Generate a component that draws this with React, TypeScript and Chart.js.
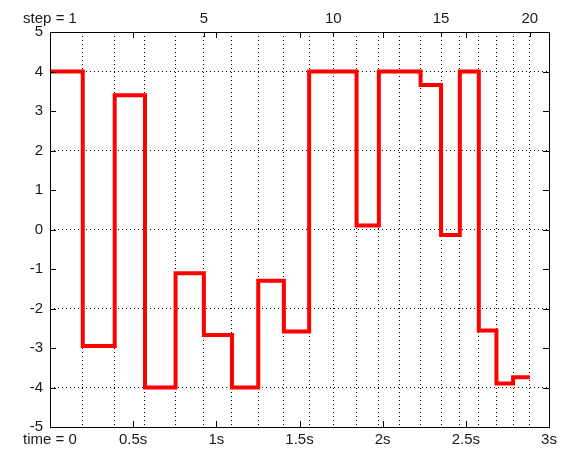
import React, { useEffect, useRef } from 'react';
import { Chart, registerables } from 'chart.js';

Chart.register(...registerables);

// step boundary times (s); boundary i is where step i+1 begins, last one is the end
const stepTimes = [0, 0.197, 0.389, 0.571, 0.755, 0.925, 1.094, 1.252, 1.406, 1.558, 1.703, 1.843, 1.977, 2.103, 2.228, 2.351, 2.464, 2.578, 2.684, 2.784, 2.885];
// value held during each step
const stepValues = [4, -2.95, 3.4, -4.0, -1.11, -2.67, -4.0, -1.3, -2.58, 4, 4, 0.1, 4, 4, 3.66, -0.14, 4, -2.56, -3.9, -3.74];

const timeTicks = [0, 0.5, 1, 1.5, 2, 2.5, 3];
const timeLabels = ['time = 0', '0.5s', '1s', '1.5s', '2s', '2.5s', '3s'];
const stepLabelIndex = [0, 5, 10, 15, 20];
const stepLabels = ['step = 1', '5', '10', '15', '20'];
const yMin = -5;
const yMax = 5;

const FONT = { family: '"Liberation Sans", Arial, Helvetica, sans-serif', size: 15 };
const TEXT = '#1a1a1a';
const AXIS = '#000000';

const framePlugin = {
  id: 'frameTicks',
  afterDraw(chart: any) {
    const { ctx, chartArea: a, scales } = chart;
    const x = scales.x;
    const y = scales.y;
    ctx.save();
    ctx.strokeStyle = AXIS;
    ctx.lineWidth = 1;
    ctx.setLineDash([]);
    ctx.beginPath();
    for (let v = yMin + 1; v < yMax; v++) {
      const py = Math.round(y.getPixelForValue(v)) + 0.5;
      ctx.moveTo(a.left, py);
      ctx.lineTo(a.left + 6, py);
      ctx.moveTo(a.right, py);
      ctx.lineTo(a.right - 6, py);
    }
    timeTicks.forEach((t) => {
      if (t <= 0 || t >= 3) return;
      const px = Math.round(x.getPixelForValue(t)) + 0.5;
      ctx.moveTo(px, a.bottom);
      ctx.lineTo(px, a.bottom - 6);
      ctx.moveTo(px, a.top);
      ctx.lineTo(px, a.top + 6);
    });
    stepLabelIndex.forEach((i) => {
      if (i === 0) return;
      const px = Math.round(x.getPixelForValue(stepTimes[i])) + 0.5;
      ctx.moveTo(px, a.top);
      ctx.lineTo(px, a.top + 5);
    });
    ctx.stroke();
    ctx.strokeRect(Math.round(a.left) + 0.5, Math.round(a.top) + 0.5, Math.round(a.right - a.left), Math.round(a.bottom - a.top));
    ctx.restore();
  },
};

export default function App() {
  const ref = useRef<HTMLCanvasElement | null>(null);

  useEffect(() => {
    document.body.style.margin = '0';
    const canvas = ref.current;
    if (!canvas) return;
    const points = stepValues.map((v, i) => ({ x: stepTimes[i], y: v }));
    points.push({ x: stepTimes[stepTimes.length - 1], y: stepValues[stepValues.length - 1] });

    const chart = new Chart(canvas, {
      type: 'line',
      data: {
        datasets: [
          {
            data: points,
            borderColor: '#ff0000',
            borderWidth: 4,
            pointRadius: 0,
            stepped: 'before',
            fill: false,
            borderJoinStyle: 'miter',
            xAxisID: 'x',
            yAxisID: 'y',
          },
        ],
      },
      options: {
        animation: false,
        responsive: false,
        devicePixelRatio: 1,
        layout: { padding: { left: 0, right: 13, top: 0, bottom: 0 } },
        plugins: { legend: { display: false }, tooltip: { enabled: false } },
        scales: {
          x: {
            type: 'linear',
            position: 'bottom',
            min: 0,
            max: 3,
            z: 1,
            afterBuildTicks: (s: any) => {
              s.ticks = timeTicks.map((v) => ({ value: v }));
            },
            afterFit: (s: any) => {
              s.height = 25;
            },
            ticks: {
              autoSkip: false,
              maxRotation: 0,
              padding: 4,
              color: TEXT,
              font: FONT,
              callback: (_v: any, i: number) => timeLabels[i],
            },
            grid: { display: false, drawTicks: false },
            border: { display: false },
          },
          x2: {
            type: 'linear',
            position: 'top',
            min: 0,
            max: 3,
            z: 1,
            afterBuildTicks: (s: any) => {
              s.ticks = stepTimes.map((v) => ({ value: v }));
            },
            afterFit: (s: any) => {
              s.height = 32;
            },
            ticks: {
              autoSkip: false,
              maxRotation: 0,
              padding: 4,
              color: TEXT,
              font: FONT,
              callback: (_v: any, i: number) => {
                const k = stepLabelIndex.indexOf(i);
                return k >= 0 ? stepLabels[k] : '';
              },
            },
            grid: {
              drawTicks: false,
              lineWidth: 1,
              color: (c: any) => (c.index === 0 ? 'rgba(0,0,0,0)' : '#000000'),
            },
            border: { display: false, dash: [1, 3] },
          },
          y: {
            type: 'linear',
            position: 'left',
            min: yMin,
            max: yMax,
            z: 1,
            afterFit: (s: any) => {
              s.width = 50;
            },
            ticks: {
              stepSize: 1,
              padding: 7,
              color: TEXT,
              font: FONT,
              callback: (v: any) => String(v),
            },
            grid: {
              drawTicks: false,
              lineWidth: 1,
              color: (c: any) => {
                const v = c.tick ? c.tick.value : 1;
                return Math.abs(v) % 2 === 0 && Math.abs(v) < 5 ? '#000000' : 'rgba(0,0,0,0)';
              },
            },
            border: { display: false, dash: [1, 3] },
          },
        },
      },
      plugins: [framePlugin],
    } as any);
    return () => chart.destroy();
  }, []);

  return (
    <div style={{ width: 562, height: 452 }}>
      <canvas ref={ref} width={562} height={452} style={{ display: 'block' }} />
    </div>
  );
}
